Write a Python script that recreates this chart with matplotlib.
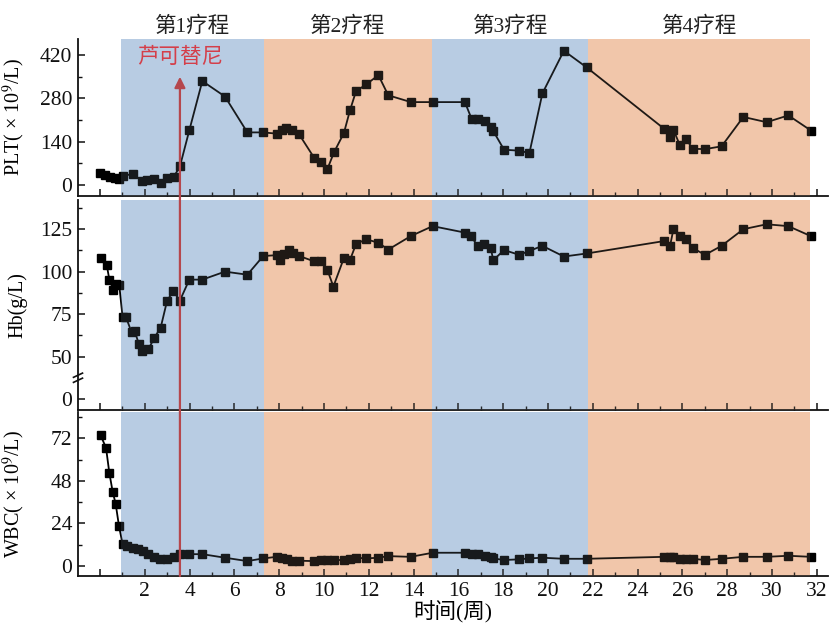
import matplotlib
matplotlib.use("Agg")
import matplotlib.pyplot as plt
from matplotlib.patches import ConnectionPatch
from matplotlib.ticker import MultipleLocator, FixedLocator

plt.rcParams['font.family'] = ['Liberation Serif', 'Noto Sans CJK SC']
plt.rcParams['mathtext.fontset'] = 'stix'

# ---------------- data ----------------
plt_x = [0.0, 0.22, 0.45, 0.67, 0.86, 1.04, 1.46, 1.86, 2.08, 2.41, 2.72, 3.0, 3.3,
         3.57, 3.99, 4.57, 5.58, 6.58, 7.29, 7.89, 8.11, 8.30, 8.56, 8.88, 9.57, 9.85,
         10.15, 10.45, 10.89, 11.16, 11.43, 11.88, 12.43, 12.87, 13.88, 14.85,
         16.29, 16.59, 16.89, 17.19, 17.44, 17.56, 18.04, 18.72, 19.17, 19.75, 20.71,
         21.73, 25.18, 25.45, 25.60, 25.89, 26.16, 26.46, 27.01, 27.75, 28.72, 29.76,
         30.73, 31.74]
plt_y = [40, 32, 27, 22, 18, 29, 36, 14, 16, 20, 8, 21, 27,
         60, 177, 336, 286, 170, 170, 166, 177, 185, 179, 165, 87, 73,
         51, 106, 168, 241, 303, 325, 355, 290, 268, 268,
         268, 214, 214, 206, 188, 174, 114, 111, 103, 296, 434,
         380, 182, 155, 179, 128, 149, 117, 116, 125, 220, 203,
         225, 176]

hb_x = [0.03, 0.3, 0.42, 0.6, 0.71, 0.86, 1.01, 1.16, 1.41, 1.56, 1.74, 1.86, 2.16,
        2.43, 2.71, 3.0, 3.27, 3.57, 3.99, 4.57, 5.58, 6.58, 7.29, 7.89, 8.04, 8.21,
        8.45, 8.63, 8.88, 9.57, 9.85, 10.15, 10.42, 10.89, 11.16, 11.43, 11.88, 12.43,
        12.87, 13.87, 14.85, 16.29, 16.56, 16.86, 17.16, 17.44, 17.56, 18.04, 18.72,
        19.15, 19.75, 20.71, 21.73, 25.18, 25.45, 25.60, 25.89, 26.16, 26.46, 27.01,
        27.75, 28.72, 29.76, 30.73, 31.74]
hb_y = [107.8, 104.1, 95.3, 89.2, 92.7, 92.3, 73.2, 73.2, 64.4, 64.8, 57.1, 53.2, 54.2,
        61.1, 67, 83, 88.4, 83, 95.3, 95.3, 100, 98.2, 109.2, 109.7, 106.8, 110.3,
        112.7, 110.9, 109.3, 106, 106, 101.1, 91.2, 108, 106.8, 116.2, 119.1, 117,
        113, 120.9, 126.8, 123, 120.9, 115.2, 116.2, 113.9, 106.8, 112.7, 109.9,
        112.1, 115.2, 108.9, 110.7, 118, 115.2, 125, 121.1, 119.1, 113.9, 109.9,
        115.2, 125, 127.9, 126.8, 120.9]

wbc_x = [0.03, 0.27, 0.42, 0.57, 0.70, 0.85, 1.01, 1.19, 1.46, 1.71, 1.93, 2.16, 2.41,
         2.68, 3.0, 3.3, 3.57, 3.99, 4.57, 5.58, 6.58, 7.29, 7.89, 8.11, 8.33, 8.56,
         8.88, 9.57, 9.85, 10.15, 10.45, 10.89, 11.16, 11.43, 11.88, 12.43, 12.87,
         13.87, 14.85, 16.29, 16.59, 16.89, 17.19, 17.44, 17.56, 18.04, 18.72, 19.15,
         19.75, 20.71, 21.73, 25.18, 25.45, 25.6, 25.89, 26.16, 26.46, 27.01, 27.75,
         28.72, 29.76, 30.73, 31.74]
wbc_y = [73.6, 66.7, 52.4, 41.7, 35.2, 22.5, 12.4, 11.2, 10.3, 9.6, 8.6, 6.7, 5.2,
         4.1, 3.8, 4.9, 6.7, 6.7, 6.7, 4.7, 2.8, 4.3, 5.2, 4.3, 3.8, 3.0,
         3.0, 2.8, 3.4, 3.4, 3.4, 3.4, 3.8, 4.7, 4.3, 4.7, 5.6,
         5.2, 7.5, 7.5, 6.7, 6.6, 5.8, 4.9, 4.3, 3.4, 3.8, 4.3,
         4.7, 4.1, 4.1, 5.2, 4.9, 4.9, 3.8, 4.1, 4.1, 3.4, 4.1,
         5.2, 5.2, 5.8, 5.2]

course_labels = ['第1疗程', '第2疗程', '第3疗程', '第4疗程']
course_bounds = [0.92, 7.32, 14.82, 21.8, 31.7]
course_colors = ['#b8cce3', '#f1c6aa', '#b8cce3', '#f1c6aa']

drug_week = 3.57
drug_label = '芦可替尼'

x_ticks = list(range(0, 33, 2))
x_ticklabels = [''] + [str(v) for v in range(2, 33, 2)]

# ---------------- figure ----------------
W, H = 830, 624
fig = plt.figure(figsize=(W / 100, H / 100), dpi=100)

def px_axes(top, bottom, left=78, right=828):
    return fig.add_axes([left / W, 1 - bottom / H, (right - left) / W, (bottom - top) / H])

ax1 = px_axes(39, 196)
ax2 = px_axes(200, 410)
ax3 = px_axes(412, 576)
axes = [ax1, ax2, ax3]

FS = 15.5
LFS = 14.5
for ax in axes:
    ax.set_xlim(-0.98, 32.5)
    for i, c in enumerate(course_colors):
        ax.axvspan(course_bounds[i], course_bounds[i + 1], color=c, lw=0, zorder=0)
    for s in ['top', 'right']:
        ax.spines[s].set_visible(False)
    for s in ['left', 'bottom']:
        ax.spines[s].set_linewidth(1.3)
        ax.spines[s].set_color('#111111')
    ax.xaxis.set_major_locator(FixedLocator(x_ticks))
    ax.xaxis.set_minor_locator(MultipleLocator(1))
    ax.tick_params(which='major', direction='in', length=5, width=1.1, labelsize=FS,
                   colors='#111111')
    ax.tick_params(which='minor', direction='in', length=3, width=1.0, colors='#111111')
    ax.tick_params(axis='y', which='both', direction='in')
    ax.tick_params(axis='y', pad=4)
    ax.set_xticklabels([])

ax3.set_xticklabels(x_ticklabels)
ax3.tick_params(axis='x', pad=4)

mk = dict(marker='s', markersize=5.8, color='black', lw=1.3, zorder=3)
ax1.plot(plt_x, plt_y, **mk)
ax2.plot(hb_x, hb_y, **mk)
ax3.plot(wbc_x, wbc_y, **mk)

# translucent overlay to tint markers like the original
for ax in axes:
    for i, c in enumerate(course_colors):
        ax.axvspan(course_bounds[i], course_bounds[i + 1], color=c, alpha=0.13, lw=0, zorder=4)

# top panel
ax1.set_ylim(-35.6, 472)
ax1.set_yticks([0, 140, 280, 420])
ax1.yaxis.set_minor_locator(MultipleLocator(70))
ax1.set_ylabel('PLT( × 10$^{9}$/L)', fontsize=LFS)

# middle panel (broken axis: tick 25 labelled 0)
ax2.set_ylim(18.5, 142.2)
ax2.set_yticks([25, 50, 75, 100, 125])
ax2.set_yticklabels(['0', '50', '75', '100', '125'])
ax2.yaxis.set_minor_locator(FixedLocator([62.5, 87.5, 112.5, 137.5]))
ax2.set_ylabel('Hb(g/L)', fontsize=LFS)
# break marks
ybr = ax2.transLimits.transform((0, 37.5))[1]
for dy in (-0.012, 0.012):
    ax2.plot([-0.006, 0.006], [ybr + dy - 0.01, ybr + dy + 0.01], transform=ax2.transAxes,
             color='#111111', lw=1.2, clip_on=False, zorder=6)

# bottom panel
ax3.set_ylim(-5.6, 86.8)
ax3.set_yticks([0, 24, 48, 72])
ax3.yaxis.set_minor_locator(MultipleLocator(12))
ax3.set_ylabel('WBC( × 10$^{9}$/L)', fontsize=LFS)
ax3.set_xlabel('时间(周)', fontsize=15.5, labelpad=0)

for ax in axes:
    ax.yaxis.set_label_coords(-0.068, 0.5)

# course headers
for i, lab in enumerate(course_labels):
    xc = (course_bounds[i] + course_bounds[i + 1]) / 2
    ax1.text(xc, 1.076, lab, transform=ax1.get_xaxis_transform(), ha='center', va='center',
             fontsize=15.5, color='#222222')

# drug arrow across panels
con = ConnectionPatch(xyA=(drug_week, -5.6), coordsA='data', axesA=ax3,
                      xyB=(drug_week, 350), coordsB='data', axesB=ax1,
                      arrowstyle='-|>', mutation_scale=16, color='#b5474d', lw=1.6, zorder=10)
fig.add_artist(con)
ax1.text(drug_week, 412, drug_label, ha='center', va='center', fontsize=15.5,
         color='#d43f4a', zorder=10)

fig.savefig('out.png', dpi=100)
